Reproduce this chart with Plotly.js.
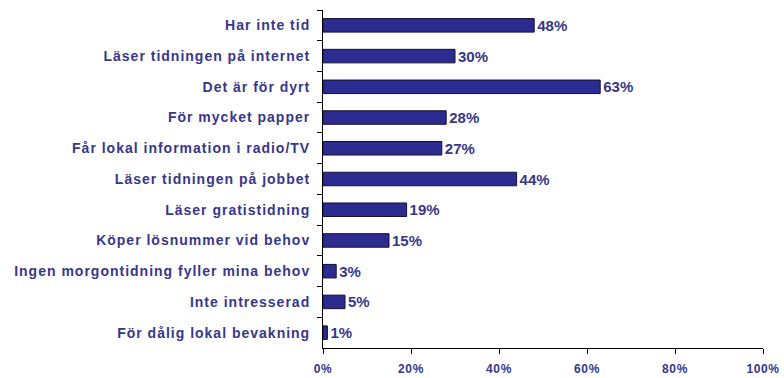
<!DOCTYPE html>
<html>
<head>
<meta charset="utf-8">
<script src="https://cdn.plot.ly/plotly-3.0.1.min.js"></script>
<style>
html,body{margin:0;padding:0;background:#fff;}
#chart{width:784px;height:378px;}
#chart .ytick text{letter-spacing:1px;}
#chart .xtick text{letter-spacing:0.6px;}
</style>
</head>
<body>
<div id="chart"></div>
<script>
const categories = [
  "Har inte tid",
  "Läser tidningen på internet",
  "Det är för dyrt",
  "För mycket papper",
  "Får lokal information i radio/TV",
  "Läser tidningen på jobbet",
  "Läser gratistidning",
  "Köper lösnummer vid behov",
  "Ingen morgontidning fyller mina behov",
  "Inte intresserad",
  "För dålig lokal bevakning"
];
const values = [48, 30, 63, 28, 27, 44, 19, 15, 3, 5, 1];
const xTicks = [0, 20, 40, 60, 80, 100];
const xTickLabels = ["0%", "20%", "40%", "60%", "80%", "100%"];

const textColor = "#37378a";
const fam = "Liberation Sans, Arial, sans-serif";

const trace = {
  type: "bar",
  orientation: "h",
  y: categories,
  x: values,
  text: values.map(v => v + "%"),
  textposition: "outside",
  constraintext: "none",
  cliponaxis: false,
  textfont: {family: fam, size: 15, color: textColor, weight: "bold"},
  marker: {color: "#2c2c90", line: {color: "#111133", width: 1}},
  hoverinfo: "skip"
};

const layout = {
  width: 784, height: 378,
  margin: {l: 323, r: 21, t: 10, b: 30},
  paper_bgcolor: "#ffffff",
  plot_bgcolor: "#ffffff",
  showlegend: false,
  bargap: 0.56,
  font: {family: fam, size: 13, color: textColor, weight: "bold"},
  xaxis: {
    range: [0, 100],
    tickvals: xTicks,
    ticktext: xTickLabels,
    showgrid: false,
    zeroline: false,
    showline: true,
    linecolor: "#000000",
    linewidth: 1,
    ticks: "outside",
    ticklen: 5,
    tickcolor: "#000000",
    ticklabelstandoff: 5,
    tickfont: {family: fam, size: 12, color: textColor, weight: "bold"},
    fixedrange: true
  },
  yaxis: {
    type: "category",
    autorange: "reversed",
    showgrid: false,
    zeroline: false,
    showline: true,
    linecolor: "#000000",
    linewidth: 1,
    ticks: "outside",
    tickson: "boundaries",
    ticklen: 5,
    tickcolor: "#000000",
    ticklabelstandoff: 9,
    tickfont: {family: fam, size: 14, color: textColor, weight: "bold"},
    fixedrange: true
  }
};

Plotly.newPlot("chart", [trace], layout, {displayModeBar: false, staticPlot: true});
</script>
</body>
</html>
